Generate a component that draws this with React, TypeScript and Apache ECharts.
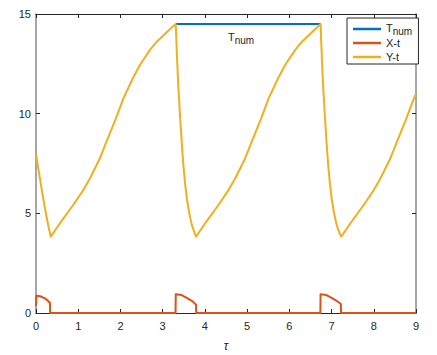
import React, { useEffect, useRef } from "react";
import * as echarts from "echarts";

// ---- data ----
const seriesNames = ["T_num", "X-t", "Y-t"];
const seriesColors = ["#0072BD", "#D95319", "#EDB120"];

const tauT = [3.31, 6.74];
const valT = [14.5, 14.5];

const tauX = [0, 0.01, 0.1, 0.2, 0.28, 0.33, 0.335, 3.305, 3.31, 3.45, 3.57, 3.7, 3.79, 3.795, 6.735, 6.74, 6.88, 7.0, 7.13, 7.22, 7.225, 9];
const valX = [0.35, 0.87, 0.84, 0.75, 0.62, 0.5, 0, 0, 0.94, 0.9, 0.76, 0.6, 0.42, 0, 0, 0.94, 0.9, 0.76, 0.6, 0.45, 0, 0];

const tauY = [
  0, 0.05, 0.1, 0.15, 0.2, 0.25, 0.3, 0.35,
  0.6, 0.88, 1.1, 1.28, 1.5, 1.67, 1.9, 2.07, 2.3, 2.46, 2.7, 2.86, 3.1, 3.31,
  3.32, 3.34, 3.37, 3.41, 3.45, 3.49, 3.53, 3.57, 3.63, 3.69, 3.75, 3.79,
  4.04, 4.32, 4.54, 4.72, 4.94, 5.11, 5.34, 5.51, 5.74, 5.9, 6.14, 6.3, 6.54, 6.74,
  6.75, 6.77, 6.8, 6.84, 6.88, 6.92, 6.96, 7.0, 7.06, 7.12, 7.18, 7.23,
  7.48, 7.76, 7.98, 8.16, 8.38, 8.55, 8.78, 8.95, 9.0,
];
const valY = [
  8.0, 7.3, 6.65, 6.0, 5.4, 4.83, 4.3, 3.83,
  4.6, 5.42, 6.1, 6.76, 7.7, 8.6, 9.8, 10.77, 11.8, 12.44, 13.2, 13.61, 14.1, 14.5,
  13.9, 12.8, 11.4, 9.95, 8.6, 7.43, 6.5, 5.77, 5.0, 4.42, 4.05, 3.83,
  4.6, 5.42, 6.1, 6.76, 7.7, 8.6, 9.8, 10.77, 11.8, 12.44, 13.2, 13.61, 14.1, 14.5,
  13.9, 12.8, 11.4, 9.95, 8.6, 7.43, 6.5, 5.77, 5.0, 4.42, 4.05, 3.83,
  4.6, 5.42, 6.1, 6.76, 7.7, 8.6, 9.8, 10.77, 11.0,
];

const xMin = 0, xMax = 9, xStep = 1;
const yMin = 0, yMax = 15, yStep = 5;
const xLabel = "τ";
const annotationText = "{t|T}{s|num}{h| }";

const zip = (a: number[], b: number[]) => a.map((v, i) => [v, b[i]]);

const FONT = "'Liberation Sans', Arial, Helvetica, sans-serif";
const DARK = "#262626";
const GRAY = "#8a8a8a";

const rich = {
  t: { fontSize: 11, fontFamily: FONT, color: DARK, verticalAlign: "top", lineHeight: 10 },
  s: { fontSize: 10, fontFamily: FONT, color: DARK, verticalAlign: "bottom", lineHeight: 4 },
  h: { fontSize: 1, fontFamily: FONT, color: DARK, verticalAlign: "middle", lineHeight: 14 },
};

export default function App() {
  const ref = useRef<HTMLDivElement>(null);
  useEffect(() => {
    if (!ref.current) return;
    const chart = echarts.init(ref.current, undefined, { renderer: "svg" });
    const axisCommon = {
      type: "value" as const,
      axisTick: { show: true, inside: true, length: 4, lineStyle: { color: DARK, width: 1 } },
      splitLine: { show: false },
    };
    const dataSets = [zip(tauT, valT), zip(tauX, valX), zip(tauY, valY)];
    chart.setOption({
      animation: false,
      backgroundColor: "#ffffff",
      textStyle: { fontFamily: FONT },
      grid: { left: 36, right: 21, top: 14, bottom: 42, containLabel: false, outerBoundsMode: "none" },
      xAxis: [
        {
          ...axisCommon,
          position: "bottom",
          min: xMin, max: xMax, interval: xStep,
          axisLine: { show: true, onZero: false, lineStyle: { color: DARK, width: 1 } },
          axisLabel: { show: true, margin: 7, fontSize: 11, color: DARK, fontFamily: FONT },
          name: xLabel,
          nameLocation: "middle",
          nameGap: 27,
          nameTextStyle: { fontSize: 12, fontStyle: "italic", color: DARK, fontFamily: FONT },
        },
        {
          ...axisCommon,
          position: "top",
          min: xMin, max: xMax, interval: xStep,
          axisLine: { show: true, onZero: false, lineStyle: { color: DARK, width: 1 } },
          axisLabel: { show: false },
        },
      ],
      yAxis: [
        {
          ...axisCommon,
          position: "left",
          min: yMin, max: yMax, interval: yStep,
          axisLine: { show: true, onZero: false, lineStyle: { color: GRAY, width: 1.5 } },
          axisLabel: { show: true, margin: 5, fontSize: 11, color: DARK, fontFamily: FONT },
        },
        {
          ...axisCommon,
          position: "right",
          min: yMin, max: yMax, interval: yStep,
          axisLine: { show: true, onZero: false, lineStyle: { color: GRAY, width: 1.5 } },
          axisLabel: { show: false },
        },
      ],
      legend: {
        orient: "vertical",
        left: 347,
        top: 18,
        padding: [4, 6, 0, 6],
        itemGap: 0,
        itemWidth: 28,
        itemHeight: 2.5,
        icon: "rect",
        backgroundColor: "#ffffff",
        borderColor: DARK,
        borderWidth: 1,
        borderRadius: 0,
        data: seriesNames.map((name) => ({ name })),
        formatter: (name: string) => (name === "T_num" ? annotationText : name),
        textStyle: { fontSize: 11, color: DARK, fontFamily: FONT, lineHeight: 14, rich },
      },
      graphic: [
        {
          type: "text",
          left: 228,
          top: 31,
          style: { text: annotationText, rich, fill: DARK },
        },
      ],
      series: seriesNames.map((name, i) => ({
        name,
        type: "line",
        xAxisIndex: 0,
        yAxisIndex: 0,
        data: dataSets[i],
        showSymbol: false,
        symbol: "none",
        smooth: false,
        lineStyle: { color: seriesColors[i], width: 2, join: "round" },
        itemStyle: { color: seriesColors[i] },
        z: 2 + i,
      })),
    });
    return () => chart.dispose();
  }, []);
  return (
    <div
      ref={ref}
      style={{ position: "fixed", left: 0, top: 0, width: 437, height: 355 }}
    />
  );
}
